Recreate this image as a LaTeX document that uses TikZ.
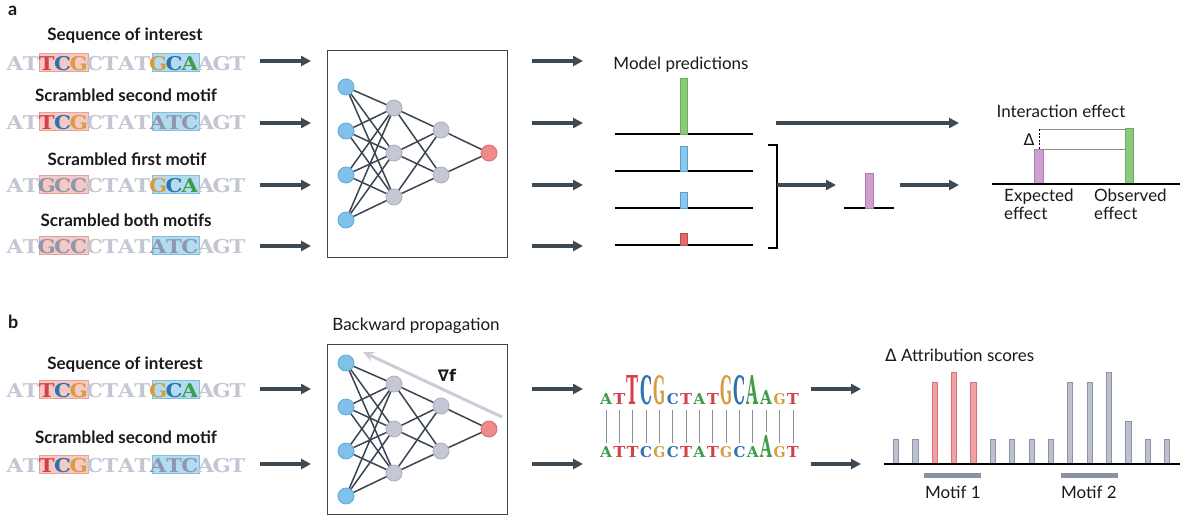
\documentclass[tikz,border=0pt]{standalone}
\usepackage{fontspec}
\usepackage{graphicx}
\setmainfont{Lato}
\newfontfamily\seqfont{DejaVu Serif}[BoldFont={DejaVu Serif Bold}]
\newfontfamily\symf{DejaVu Sans}
\usetikzlibrary{arrows.meta}
\definecolor{arrowc}{HTML}{3E4A53}
\definecolor{edgec}{HTML}{3A4452}
\definecolor{nnbluef}{HTML}{7FC1E9}
\definecolor{nnblued}{HTML}{5FA9D6}
\definecolor{nngrayf}{HTML}{C5C8D4}
\definecolor{nngrayd}{HTML}{A9ADBC}
\definecolor{nnredf}{HTML}{EF8B8D}
\definecolor{nnredd}{HTML}{D66C70}
\definecolor{sl}{HTML}{C3C7D3}
\definecolor{sd}{HTML}{8E97AD}
\definecolor{sT}{HTML}{D43F49}
\definecolor{sC}{HTML}{2E72B0}
\definecolor{sG}{HTML}{D89C3F}
\definecolor{sA}{HTML}{3F9C4B}
\definecolor{pinkf}{HTML}{F6C9C4}
\definecolor{pinkd}{HTML}{E5A29C}
\definecolor{bluef}{HTML}{B4DCF1}
\definecolor{blued}{HTML}{7FBFE0}
\definecolor{bgreenf}{HTML}{8CC97A}
\definecolor{bgreend}{HTML}{6AAE58}
\definecolor{bbluef}{HTML}{8CC6EA}
\definecolor{bblued}{HTML}{5A9FCF}
\definecolor{bredf}{HTML}{E36A6A}
\definecolor{bredd}{HTML}{C04A4A}
\definecolor{bpurf}{HTML}{CF9FCF}
\definecolor{bpurd}{HTML}{B07CB0}
\definecolor{scgf}{HTML}{BCC0CF}
\definecolor{scgd}{HTML}{8D93A6}
\definecolor{scrf}{HTML}{F0A1A4}
\definecolor{scrd}{HTML}{D8737A}
\definecolor{motifc}{HTML}{8A91A5}
\definecolor{gradc}{HTML}{C9CDD7}
\definecolor{txt}{HTML}{1A1A1A}
\definecolor{thinc}{HTML}{8E8E8E}
\definecolor{logoln}{HTML}{8A8F99}

\newcommand\seqrow[3]{%
  \foreach \ch/\cl [count=\i from 0] in {#3}{
    \node[seqch,text=\cl] (#2\i) at (15+15.9*\i,#1) {\scalebox{1.12}[1]{\ch}};
  }
}
\newcommand\motifboxes[1]{%
  \draw[pinkbox] (39.5,#1-17) rectangle (88,#1+1);
  \draw[bluebox] (152,#1-17) rectangle (199,#1+1);
}
\newcommand\nnet[2]{%
  \foreach \y [count=\k] in {87,131,175,220} \node[nnin] (#1i\k) at (346,\y+#2) {};
  \foreach \y [count=\k] in {108,153,197} \node[nnhid] (#1h\k) at (394,\y+#2) {};
  \foreach \y [count=\k] in {130,175} \node[nnhid] (#1g\k) at (441,\y+#2) {};
  \node[nnout] (#1o) at (489,153+#2) {};
  \foreach \a in {1,...,4} \foreach \b in {1,2,3} \draw[nnedge] (#1i\a) -- (#1h\b);
  \foreach \a in {1,2,3} \foreach \b in {1,2} \draw[nnedge] (#1h\a) -- (#1g\b);
  \foreach \a in {1,2} \draw[nnedge] (#1g\a) -- (#1o);
}

\begin{document}
\begin{tikzpicture}[x=1pt,y=-1pt,
  seqch/.style={anchor=base,inner sep=0,font=\seqfont\bfseries\fontsize{19}{19}\selectfont},
  pinkbox/.style={fill=pinkf,draw=pinkd,line width=0.8pt},
  bluebox/.style={fill=bluef,draw=blued,line width=0.8pt},
  lbl/.style={anchor=base,inner sep=0,text=txt,font=\fontsize{17}{20}\selectfont},
  blbl/.style={anchor=base,inner sep=0,text=txt,font=\bfseries\fontsize{17}{20}\selectfont},
  panel/.style={anchor=base west,inner sep=0,text=txt,font=\bfseries\fontsize{18}{20}\selectfont},
  arr/.style={draw=arrowc,line width=3.6pt,-{Triangle[length=10pt,width=10pt]}},
  nnin/.style={circle,minimum size=16pt,inner sep=0,fill=nnbluef,draw=nnblued,line width=0.8pt},
  nnhid/.style={circle,minimum size=16pt,inner sep=0,fill=nngrayf,draw=nngrayd,line width=0.8pt},
  nnout/.style={circle,minimum size=16pt,inner sep=0,fill=nnredf,draw=nnredd,line width=0.8pt},
  nnedge/.style={draw=edgec,line width=1.5pt},
  nnbox/.style={draw=edgec,line width=1pt},
  axis/.style={draw=black,line width=1.2pt},
  thin/.style={draw=thinc,line width=1pt},
  logoline/.style={draw=logoln,line width=0.8pt},
  lg/.style={anchor=base,inner sep=0}
]
\useasboundingbox[fill=white] (0,0) rectangle (1191,520);

% ---------------- panel a ----------------
\node[panel] (pa) at (8,15) {a};
\node[blbl] (t1) at (125,40) {Sequence of interest};
\node[blbl] (t2) at (126,101) {Scrambled second motif};
\node[blbl] (t3) at (127,165) {Scrambled first motif};
\node[blbl] (t4) at (126,226) {Scrambled both motifs};

\motifboxes{70}
\motifboxes{129}
\motifboxes{192}
\motifboxes{253}
\seqrow{70}{sa}{A/sl,T/sl,T/sT,C/sC,G/sG,C/sl,T/sl,A/sl,T/sl,G/sG,C/sC,A/sA,A/sl,G/sl,T/sl}
\seqrow{129}{sb}{A/sl,T/sl,T/sT,C/sC,G/sG,C/sl,T/sl,A/sl,T/sl,A/sd,T/sd,C/sd,A/sl,G/sl,T/sl}
\seqrow{192}{sc}{A/sl,T/sl,G/sd,C/sd,C/sd,C/sl,T/sl,A/sl,T/sl,G/sG,C/sC,A/sA,A/sl,G/sl,T/sl}
\seqrow{253}{sd}{A/sl,T/sl,G/sd,C/sd,C/sd,C/sl,T/sl,A/sl,T/sl,A/sd,T/sd,C/sd,A/sl,G/sl,T/sl}

\foreach \y [count=\k] in {61,123,185,246}{
  \coordinate (la\k) at (260,\y); \coordinate (lb\k) at (311,\y);
  \draw[arr] (la\k) -- (lb\k);
  \coordinate (ra\k) at (532,\y); \coordinate (rb\k) at (583,\y);
  \draw[arr] (ra\k) -- (rb\k);
}

\draw[nnbox] (327,50) rectangle (507,257);
\nnet{A}{0}

% model predictions
\node[lbl] (mp) at (681,69) {Model predictions};
\foreach \y in {134,171,208,245} \draw[axis] (615,\y) -- (753,\y);
\draw[fill=bgreenf,draw=bgreend,line width=0.8pt] (680.5,78) rectangle (687.5,134);
\draw[fill=bbluef,draw=bblued,line width=0.8pt] (680.5,146) rectangle (687.5,171);
\draw[fill=bbluef,draw=bblued,line width=0.8pt] (680.5,192) rectangle (687.5,208);
\draw[fill=bredf,draw=bredd,line width=0.8pt] (680.5,233) rectangle (687.5,245);
\draw[axis] (768,145) -- (777,145) -- (777,248) -- (768,248);

\coordinate (ta) at (776,123); \coordinate (tb) at (959,123);
\draw[arr] (ta) -- (tb);
\coordinate (ma) at (777,185); \coordinate (mb) at (836,185);
\draw[arr] (ma) -- (mb);
\coordinate (na) at (900,185); \coordinate (nb) at (959,185);
\draw[arr] (na) -- (nb);
\draw[axis] (844,208) -- (894,208);
\draw[fill=bpurf,draw=bpurd,line width=0.8pt] (865,173) rectangle (873,208);

% interaction effect
\node[lbl] (ie) at (1061,117) {Interaction effect};
\draw[thin] (1039,129) -- (1125,129);
\draw[thin] (1043,149) -- (1125,149);
\draw[draw=black,line width=0.9pt,dash pattern=on 2pt off 1.5pt] (1039,129) -- (1039,149);
\node[lbl,font=\symf\fontsize{16}{18}\selectfont] (dl) at (1029,145) {Δ};
\draw[fill=bpurf,draw=bpurd,line width=0.8pt] (1034,149) rectangle (1043,184);
\draw[fill=bgreenf,draw=bgreend,line width=0.8pt] (1125,128) rectangle (1133,184);
\draw[axis] (992,184) -- (1180,184);
\node[lbl,anchor=base west] (ee) at (1004,201) {Expected};
\node[lbl,anchor=base west] (ee2) at (1004,219) {effect};
\node[lbl,anchor=base west] (oe) at (1094,201) {Observed};
\node[lbl,anchor=base west] (oe2) at (1094,219) {effect};

% ---------------- panel b ----------------
\node[panel] (pb) at (8,328) {b};
\node[blbl] (u1) at (125,369) {Sequence of interest};
\node[blbl] (u2) at (126,443) {Scrambled second motif};
\motifboxes{397}
\motifboxes{472}
\seqrow{397}{se}{A/sl,T/sl,T/sT,C/sC,G/sG,C/sl,T/sl,A/sl,T/sl,G/sG,C/sC,A/sA,A/sl,G/sl,T/sl}
\seqrow{472}{sf}{A/sl,T/sl,T/sT,C/sC,G/sG,C/sl,T/sl,A/sl,T/sl,A/sd,T/sd,C/sd,A/sl,G/sl,T/sl}

\foreach \y [count=\k] in {389,464}{
  \coordinate (lc\k) at (260,\y); \coordinate (ld\k) at (311,\y);
  \draw[arr] (lc\k) -- (ld\k);
  \coordinate (rc\k) at (532,\y); \coordinate (rd\k) at (583,\y);
  \draw[arr] (rc\k) -- (rd\k);
  \coordinate (qc\k) at (811,\y); \coordinate (qd\k) at (861,\y);
  \draw[arr] (qc\k) -- (qd\k);
}

\node[lbl] (bp) at (416,330) {Backward propagation};
\draw[nnbox] (327,344) rectangle (507,514);
\nnet{B}{276}
\coordinate (ga) at (502,417); \coordinate (gb) at (363,352);
\draw[draw=gradc,line width=3pt,-{Stealth[length=11pt,width=10pt]}] (ga) -- (gb);
\node[lbl,font=\symf\bfseries\fontsize{16}{18}\selectfont] (nf) at (447,381) {∇f};

% sequence logo
\foreach \ch/\cl/\h [count=\i from 0] in {A/sA/11,T/sT/11,T/sT/29,C/sC/29,G/sG/29,C/sC/11,T/sT/11,A/sA/11,T/sT/11,G/sG/29,C/sC/29,A/sA/29,A/sA/14,G/sG/11,T/sT/11}{
  \node[lg,text=\cl] (lt\i) at (606+13.35*\i,404) {\resizebox{12pt}{\h pt}{\seqfont\bfseries \ch}};
}
\foreach \ch/\cl/\h [count=\i from 0] in {A/sA/11,T/sT/11,T/sT/11,C/sC/11,G/sG/11,C/sC/11,T/sT/11,A/sA/11,T/sT/11,G/sG/11,C/sC/11,A/sA/11,A/sA/22,G/sG/11,T/sT/11}{
  \node[lg,text=\cl] (lb\i) at (606+13.35*\i,457) {\resizebox{12pt}{\h pt}{\seqfont\bfseries \ch}};
}
\foreach \i in {0,...,14}{
  \draw[logoline] ([yshift=-6pt]lt\i.base) -- ([yshift=3pt]lb\i.north);
}

% attribution scores
\node[lbl,anchor=base west] (as) at (885,361) {{\symf Δ} Attribution scores};
\foreach \t [count=\i from 0] in {439,439,382,372,382,439,439,439,439,382,382,372,421,439,439}{
  \pgfmathsetmacro\cx{896+19.36*\i}
  \ifnum\i>1 \ifnum\i<5
    \draw[fill=scrf,draw=scrd,line width=0.8pt] (\cx-2.6,\t) rectangle (\cx+2.6,464);
  \else
    \draw[fill=scgf,draw=scgd,line width=0.8pt] (\cx-2.6,\t) rectangle (\cx+2.6,464);
  \fi\else
    \draw[fill=scgf,draw=scgd,line width=0.8pt] (\cx-2.6,\t) rectangle (\cx+2.6,464);
  \fi
}
\draw[axis] (884,464) -- (1180,464);
\fill[motifc] (924,473) rectangle (981,478);
\fill[motifc] (1061,473) rectangle (1118,478);
\node[lbl] (m1) at (953,498) {Motif 1};
\node[lbl] (m2) at (1089,498) {Motif 2};
\end{tikzpicture}
\end{document}
